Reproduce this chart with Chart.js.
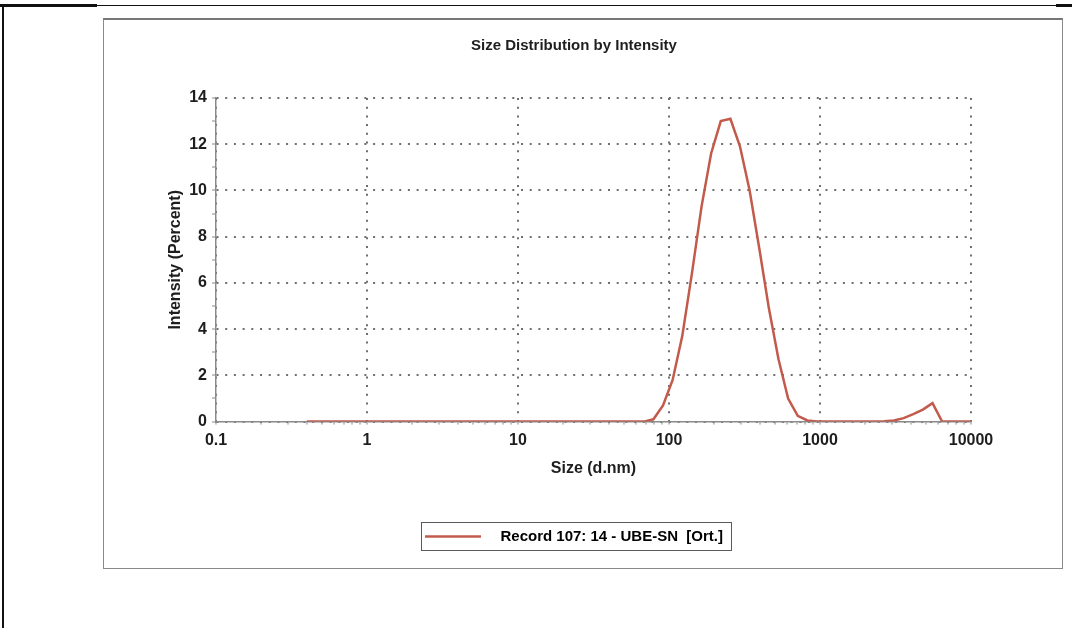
<!DOCTYPE html>
<html>
<head>
<meta charset="utf-8">
<title>Size Distribution by Intensity</title>
<script src="https://cdn.jsdelivr.net/npm/chart.js@4/dist/chart.umd.min.js"></script>
<style>
  html, body { margin: 0; padding: 0; background: #fff; }
  body { width: 1072px; height: 628px; position: relative; overflow: hidden; }
  .rule { position: absolute; background: #111; }
  #frame {
    position: absolute; left: 103px; top: 18px; width: 958px; height: 548px;
    border: 1px solid #8a8a8a; border-top: 2px solid #777;
  }
  #wrap { position: absolute; left: 103px; top: 18px; width: 960px; height: 550px; }
</style>
</head>
<body>
<div class="rule" style="left:0;top:4px;width:97px;height:3px"></div>
<div class="rule" style="left:97px;top:5px;width:960px;height:1px"></div>
<div class="rule" style="left:1056px;top:4px;width:16px;height:3px"></div>
<div class="rule" style="left:2px;top:4px;width:2px;height:624px"></div>
<div id="frame"></div>
<div id="wrap"><canvas id="dist" width="960" height="550"></canvas></div>
<script>
// size classes (d.nm) and intensity (%)
const sizes = [0.4, 0.4632, 0.5365, 0.6213, 0.7195, 0.8332, 0.9649, 1.117, 1.294, 1.499,
  1.736, 2.01, 2.328, 2.696, 3.122, 3.615, 4.187, 4.849, 5.615, 6.503,
  7.531, 8.721, 10.1, 11.7, 13.54, 15.69, 18.17, 21.04, 24.36, 28.21,
  32.67, 37.84, 43.82, 50.75, 58.77, 68.06, 78.82, 91.28, 105.7, 122.4,
  141.8, 164.2, 190.1, 220.2, 255.0, 295.3, 342.0, 396.1, 458.7, 531.2,
  615.1, 712.4, 825.0, 955.4, 1106, 1281, 1484, 1718, 1990, 2305,
  2669, 3091, 3580, 4145, 4801, 5560, 6439, 7456, 8635, 10000];
const intensity = [0, 0, 0, 0, 0, 0, 0, 0, 0, 0,
  0, 0, 0, 0, 0, 0, 0, 0, 0, 0,
  0, 0, 0, 0, 0, 0, 0, 0, 0, 0,
  0, 0, 0, 0, 0, 0, 0.1, 0.7, 1.8, 3.7,
  6.4, 9.3, 11.6, 13.0, 13.1, 11.9, 10.0, 7.5, 4.9, 2.7,
  1.0, 0.25, 0.05, 0, 0, 0, 0, 0, 0, 0,
  0.02, 0.05, 0.15, 0.32, 0.52, 0.8, 0, 0, 0, 0];
const xDecades = [0.1, 1, 10, 100, 1000, 10000];
const yMax = 14;
const seriesLabel = 'Record 107: 14 - UBE-SN  [Ort.]';
const chartTitle = 'Size Distribution by Intensity';

const lineColor = '#c25b4c';
const gridColor = '#6f6f6f';
const axisColor = '#8a8a8a';
const textColor = '#1e1e1e';

Chart.defaults.font.family = "'Liberation Sans', Arial, sans-serif";
Chart.defaults.color = textColor;

function isDecade(v) {
  const l = Math.log10(v);
  return Math.abs(l - Math.round(l)) < 1e-6;
}

// all 1..9 steps of each decade, so the minor marks show on the axis
function decadeTicks() {
  const out = [];
  for (let i = 0; i < xDecades.length; i++) {
    const d = xDecades[i];
    out.push({ value: d });
    if (i < xDecades.length - 1) {
      for (let m = 2; m <= 9; m++) out.push({ value: +(d * m).toPrecision(6) });
    }
  }
  return out;
}

// box round the legend, and its line sample
const legendFrame = {
  id: 'legendFrame',
  afterDraw(chart) {
    const box = chart.legend.legendHitBoxes[0];
    if (!box) return;
    const ctx = chart.ctx;
    const ds = chart.data.datasets[0];
    ctx.save();
    ctx.strokeStyle = '#5a5a5a';
    ctx.lineWidth = 1;
    ctx.strokeRect(Math.round(box.left - 4) + 0.5, Math.round(box.top - 7) + 0.5,
      Math.round(box.width + 12), Math.round(box.height + 13));
    ctx.strokeStyle = ds.borderColor;
    ctx.lineWidth = ds.borderWidth;
    ctx.beginPath();
    const cy = box.top + box.height / 2;
    ctx.moveTo(box.left, cy);
    ctx.lineTo(box.left + 56, cy);
    ctx.stroke();
    ctx.restore();
  }
};

new Chart(document.getElementById('dist'), {
  type: 'line',
  data: {
    datasets: [{
      label: seriesLabel,
      data: sizes.map((s, i) => ({ x: s, y: intensity[i] })),
      borderColor: lineColor,
      backgroundColor: lineColor,
      borderWidth: 2.5,
      pointRadius: 0,
      tension: 0,
      yAxisID: 'y'
    }]
  },
  options: {
    responsive: false,
    animation: false,
    layout: { padding: { left: 50, right: 68, top: 0, bottom: 14 } },
    plugins: {
      title: {
        display: true,
        text: chartTitle,
        color: textColor,
        font: { size: 15, weight: 'bold' },
        padding: { top: 19, bottom: 43 }
      },
      legend: {
        position: 'bottom',
        labels: {
          color: textColor,
          font: { size: 15, weight: 'bold' },
          boxWidth: 68,
          boxHeight: 15,
          padding: 10,
          generateLabels(chart) {
            return chart.data.datasets.map((ds, i) => ({
              text: ds.label,
              fillStyle: 'rgba(0,0,0,0)',
              strokeStyle: 'rgba(0,0,0,0)',
              lineWidth: 0,
              datasetIndex: i
            }));
          }
        }
      },
      tooltip: { enabled: false }
    },
    scales: {
      x: {
        type: 'logarithmic',
        min: xDecades[0],
        max: xDecades[xDecades.length - 1],
        afterBuildTicks(scale) { scale.ticks = decadeTicks(); },
        ticks: {
          autoSkip: false,
          maxRotation: 0,
          padding: 6,
          color: textColor,
          font: { size: 16, weight: 'bold' },
          callback(v) { return isDecade(v) ? String(v) : ''; }
        },
        grid: {
          color: ctx => (ctx.tick && isDecade(ctx.tick.value)) ? gridColor : 'rgba(0,0,0,0)',
          lineWidth: 2,
          tickColor: axisColor,
          tickLength: 3,
          tickWidth: 1
        },
        border: { display: true, color: axisColor, width: 1.5, dash: [2, 6.7] },
        title: {
          display: true,
          text: 'Size (d.nm)',
          color: textColor,
          font: { size: 16, weight: 'bold' },
          padding: { top: 3, bottom: 41 }
        }
      },
      y: {
        type: 'linear',
        position: 'left',
        min: 0,
        max: yMax,
        afterFit(scale) { scale.width = 63; },
        ticks: {
          stepSize: 1,
          padding: 5,
          color: textColor,
          font: { size: 16, weight: 'bold' },
          callback(v) { return v % 2 === 0 ? String(v) : ''; }
        },
        grid: {
          color: ctx => (ctx.tick && ctx.tick.value % 2 === 0) ? gridColor : 'rgba(0,0,0,0)',
          lineWidth: 2,
          tickColor: axisColor,
          tickLength: 4,
          tickWidth: 1
        },
        border: { display: true, color: axisColor, width: 1.5, dash: [2, 6.7] },
        title: {
          display: true,
          text: 'Intensity (Percent)',
          color: textColor,
          font: { size: 16, weight: 'bold' },
          padding: { top: 13, bottom: 0 }
        }
      },
      spacer: {
        type: 'linear',
        position: 'right',
        display: true,
        afterFit(scale) { scale.width = 24; },
        ticks: { display: false },
        grid: { display: false, drawTicks: false },
        border: { display: false }
      }
    }
  },
  plugins: [legendFrame]
});
</script>
</body>
</html>
